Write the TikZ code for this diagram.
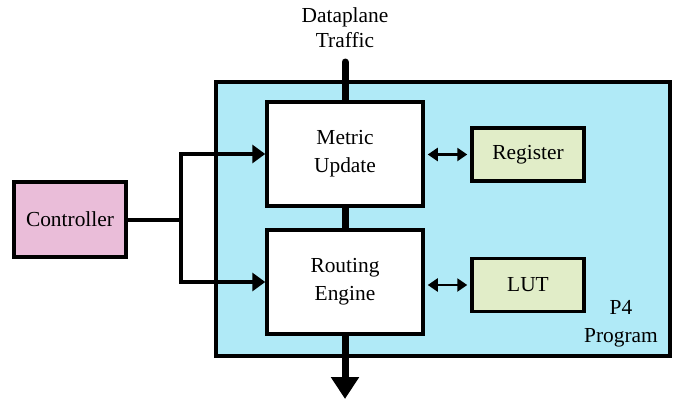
\documentclass[tikz,border=0pt]{standalone}
\usepackage{fontspec}
\setmainfont{Liberation Serif}
\usetikzlibrary{arrows.meta,calc}

\definecolor{progcyan}{RGB}{176,234,247}
\definecolor{ctrlpink}{RGB}{234,189,217}
\definecolor{tblgreen}{RGB}{225,237,200}

\tikzset{
  blk/.style={draw,line width=1.75pt,align=center,inner sep=0pt},
  unit/.style={blk,fill=white,minimum width=78pt,minimum height=52pt},
  mem/.style={blk,fill=tblgreen,minimum width=56pt,minimum height=26.5pt},
  ctrlarrow/.style={line width=2pt,-{Triangle[length=6.5pt,width=9pt]}},
  memarrow/.style={line width=1.2pt,{Triangle[length=5pt,width=6.5pt]}-{Triangle[length=5pt,width=6.5pt]},
    shorten <=1.5pt,shorten >=1.5pt},
}

\begin{document}
\begin{tikzpicture}[x=0.5pt,y=-0.5pt,font=\fontsize{10.7}{14}\selectfont]
  \useasboundingbox (0,0) rectangle (684,402);

  % P4 プログラム
  \node[blk,fill=progcyan,minimum width=227pt,minimum height=137pt] (p4) at (443,219) {};
  \node[align=center] (p4label) at (621,324) {P4\\Program};

  % 処理ブロック
  \node[unit] (metric) at (345,154) {Metric\\Update};
  \node[unit] (routing) at (345,282) {Routing\\Engine};
  \node[mem] (register) at (528,154.5) {Register};
  \node[mem] (lut) at (528,285) {LUT};

  % データプレーンのトラフィック
  \node[align=center,font=\fontsize{10.7}{12.5}\selectfont] (traffic) at (345,28) {Dataplane\\Traffic};
  \coordinate (in) at (345,62);
  \coordinate (out) at (345,399);
  \draw[line width=3.5pt,line cap=round] (in) -- (metric.north);
  \draw[line width=3.5pt] (metric.south) -- (routing.north);
  \draw[line width=3.5pt,-{Triangle[length=11pt,width=13.5pt]}] (routing.south) -- (out);

  % コントローラ
  \node[blk,fill=ctrlpink,minimum width=56pt,minimum height=37.5pt] (ctrl) at (70,219.5) {Controller};
  \coordinate (split) at (181,219.5);
  \draw[line width=2pt] (ctrl.east) -- (split);
  \draw[ctrlarrow] (split) |- (metric.west);
  \draw[ctrlarrow] (split) |- (routing.west);

  % テーブルとのやり取り
  \draw[memarrow] (metric.east |- register.west) -- (register.west);
  \draw[memarrow] (routing.east |- lut.west) -- (lut.west);
\end{tikzpicture}
\end{document}
